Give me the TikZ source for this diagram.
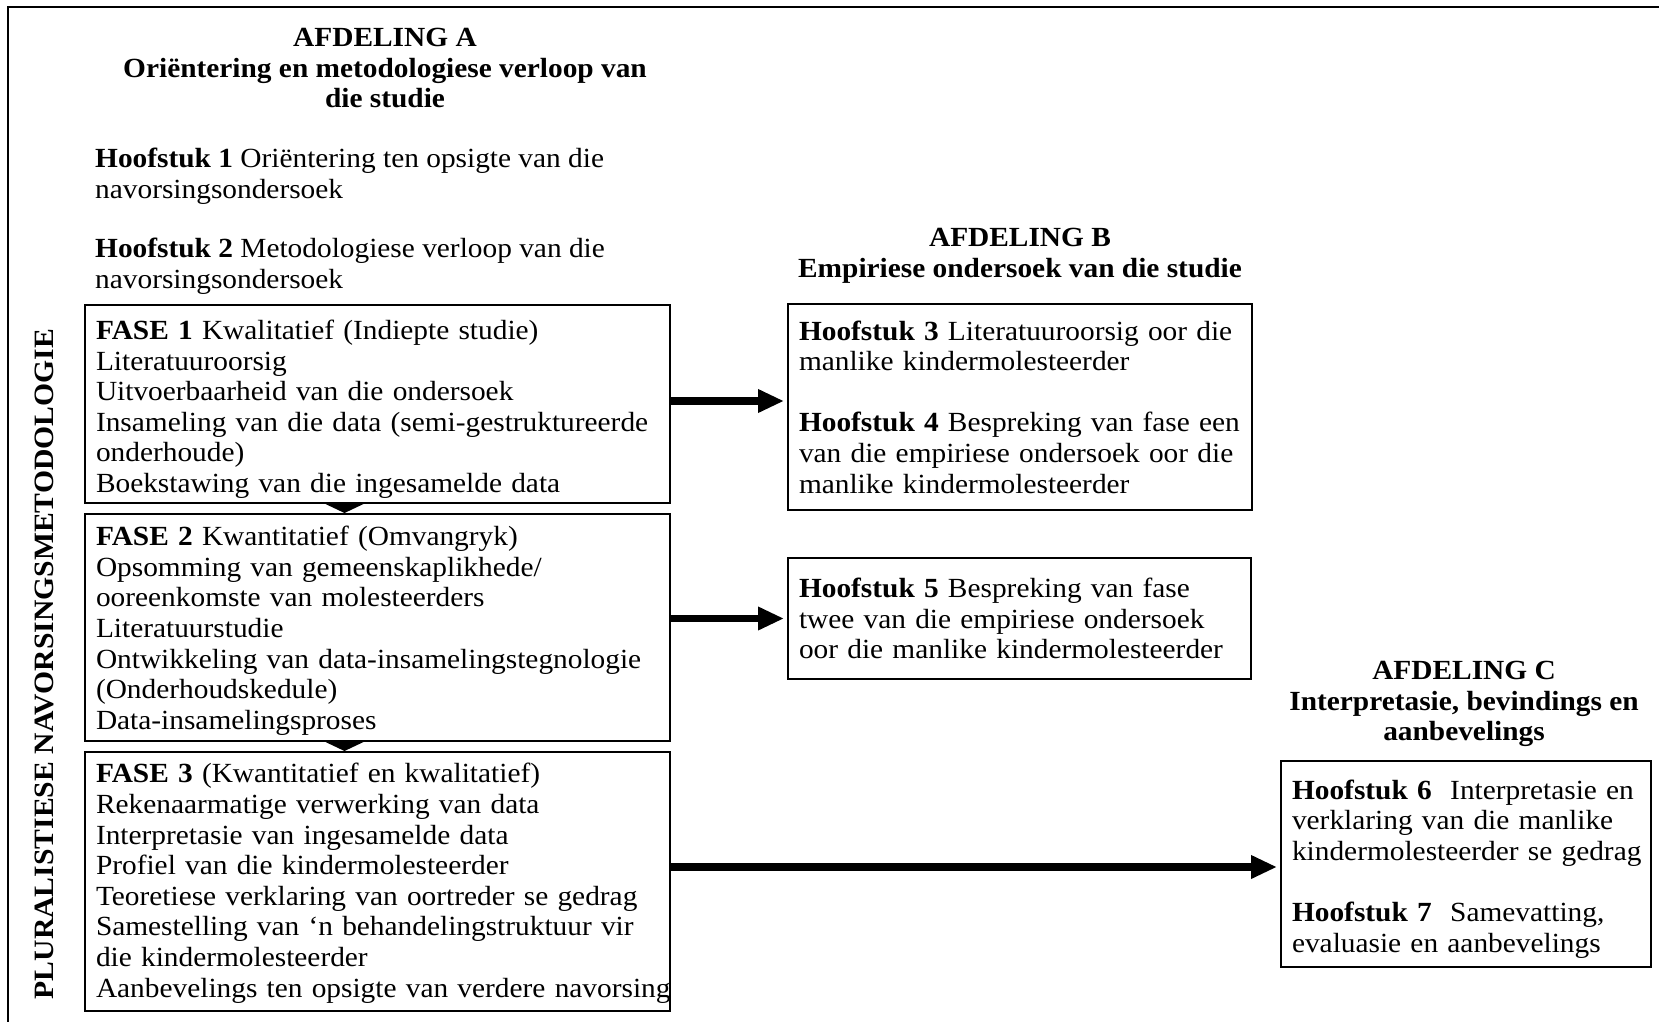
\documentclass[tikz,border=0pt]{standalone}
\usepackage{fontspec}
\setmainfont{Liberation Serif}[FakeStretch=1.06]
\usetikzlibrary{arrows.meta,calc}
\newcommand\tstrut[1]{\rule{0pt}{#1}}
\tikzset{
  every node/.style={font=\fontsize{27.7}{30.6}\selectfont},
  stagebox/.style={draw, line width=2pt, anchor=north west, align=left, inner xsep=11pt, inner ysep=0pt},
  heading/.style={align=center, inner sep=0pt, font=\fontsize{27.7}{30.6}\selectfont\bfseries},
  plaintext/.style={align=left, inner sep=0pt, anchor=west},
  bigarrow/.style={line width=7.5pt, -{Triangle[length=26pt,width=22pt]}, shorten >=3pt},
  frameline/.style={line width=2pt},
}
\begin{document}
\begin{tikzpicture}[x=1pt,y=-1pt]
\useasboundingbox (0,0) rectangle (1659,1022);
% outer frame
\coordinate (fbl) at (8,1022);
\coordinate (ftl) at (8,7);
\coordinate (ftr) at (1659,7);
\draw[frameline] (fbl) -- (ftl) -- (ftr);

% vertical label
\node[rotate=90, inner sep=0pt, font=\fontsize{28}{30.6}\selectfont\bfseries] (side) at (44,664) {PLURALISTIESE NAVORSINGSMETODOLOGIE};

% Afdeling A
\node[heading] (hA) at (385,68) {AFDELING A\\Oriëntering en metodologiese verloop van\\die studie};
\node[plaintext] (h1) at (95,176) {\textbf{Hoofstuk 1} Oriëntering ten opsigte van die\\navorsingsondersoek};
\node[plaintext] (h2) at (95,266) {\textbf{Hoofstuk 2} Metodologiese verloop van die\\navorsingsondersoek};

\node[stagebox, text width=563pt, minimum height=198pt] (f1) at (84,304) {%
\mbox{\tstrut{30pt}\textbf{FASE 1} Kwalitatief (Indiepte studie)}\\
\mbox{Literatuuroorsig}\\
\mbox{Uitvoerbaarheid van die ondersoek}\\
\mbox{Insameling van die data (semi-gestruktureerde}\\
\mbox{onderhoude)}\\
\mbox{Boekstawing van die ingesamelde data}};

\node[stagebox, text width=563pt, minimum height=227pt] (f2) at (84,513) {%
\mbox{\tstrut{26pt}\textbf{FASE 2} Kwantitatief (Omvangryk)}\\
\mbox{Opsomming van gemeenskaplikhede/}\\
\mbox{ooreenkomste van molesteerders}\\
\mbox{Literatuurstudie}\\
\mbox{Ontwikkeling van data-insamelingstegnologie}\\
\mbox{(Onderhoudskedule)}\\
\mbox{Data-insamelingsproses}};

\node[stagebox, text width=563pt, minimum height=259pt] (f3) at (84,751) {%
\mbox{\tstrut{23pt}\textbf{FASE 3} (Kwantitatief en kwalitatief)}\\
\mbox{Rekenaarmatige verwerking van data}\\
\mbox{Interpretasie van ingesamelde data}\\
\mbox{Profiel van die kindermolesteerder}\\
\mbox{Teoretiese verklaring van oortreder se gedrag}\\
\mbox{Samestelling van ‘n behandelingstruktuur vir}\\
\mbox{die kindermolesteerder}\\
\mbox{Aanbevelings ten opsigte van verdere navorsing}};

% down triangles
\fill ($(f1.south)+(-52,0)$) -- ($(f1.south)+(-14,0)$) -- ($(f2.north)+(-33,0)$) -- cycle;
\fill ($(f2.south)+(-52,0)$) -- ($(f2.south)+(-14,0)$) -- ($(f3.north)+(-33,0)$) -- cycle;

% Afdeling B
\node[heading] (hB) at (1020,256) {AFDELING B\\Empiriese ondersoek van die studie};

\node[stagebox, text width=442pt, minimum height=206pt] (b1) at (787,303) {%
\mbox{\textbf{Hoofstuk 3} Literatuuroorsig oor die}\\
\mbox{manlike kindermolesteerder}\\[30.6pt]
\mbox{\textbf{Hoofstuk 4} Bespreking van fase een}\\
\mbox{van die empiriese ondersoek oor die}\\
\mbox{manlike kindermolesteerder}};

\node[stagebox, text width=441pt, minimum height=121pt] (b2) at (787,557) {%
\mbox{\textbf{Hoofstuk 5} Bespreking van fase}\\
\mbox{twee van die empiriese ondersoek}\\
\mbox{oor die manlike kindermolesteerder}};

% Afdeling C
\node[heading] (hC) at (1464,704) {AFDELING C\\Interpretasie, bevindings en\\aanbevelings};

\node[stagebox, text width=348pt, minimum height=206pt] (c1) at (1280,760) {%
\mbox{\tstrut{29pt}\textbf{Hoofstuk 6}\ \ Interpretasie en}\\
\mbox{verklaring van die manlike}\\
\mbox{kindermolesteerder se gedrag}\\[30.6pt]
\mbox{\textbf{Hoofstuk 7}\ \ Samevatting,}\\
\mbox{evaluasie en aanbevelings}};

% arrows
\draw[bigarrow] ([yshift=3pt]f1.east) -- ([yshift=3pt]f1.east -| b1.west);
\draw[bigarrow] (b2.west -| f2.east) -- (b2.west);
\draw[bigarrow] ([yshift=-3pt]c1.west -| f3.east) -- ([yshift=-3pt]c1.west);
\end{tikzpicture}
\end{document}
